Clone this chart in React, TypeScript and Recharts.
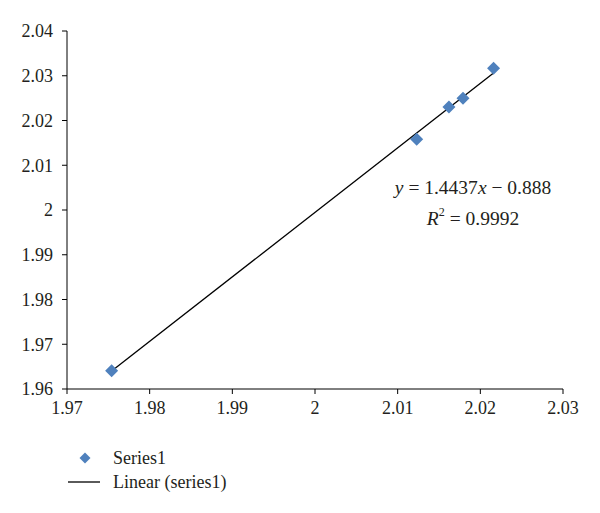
import React from 'react';
import { ScatterChart, Scatter, XAxis, YAxis } from 'recharts';

const seriesX = [1.9754, 2.0123, 2.0162, 2.0179, 2.0216];
const seriesY = [1.9641, 2.0158, 2.023, 2.025, 2.0317];
const trendX = [1.9754, 2.0216];
const trendY = [1.964, 2.0306];
const xTicks = [1.97, 1.98, 1.99, 2, 2.01, 2.02, 2.03];
const yTicks = [1.96, 1.97, 1.98, 1.99, 2, 2.01, 2.02, 2.03, 2.04];

const points = seriesX.map((x, i) => ({ x, y: seriesY[i] }));
const trend = trendX.map((x, i) => ({ x, y: trendY[i] }));

const FONT = '"Liberation Serif", "DejaVu Serif", serif';
const BLUE = '#4F81BD';
const TEXT = '#231f20';

const Diamond = (props: any) => {
  const { cx, cy } = props;
  const r = 6.5;
  return (
    <polygon
      points={`${cx},${cy - r} ${cx + r},${cy} ${cx},${cy + r} ${cx - r},${cy}`}
      fill={BLUE}
    />
  );
};

const NoShape = () => <g />;

export default function App() {
  return (
    <div style={{ position: 'absolute', left: 0, top: 0, width: 600, height: 513, background: '#fff', fontFamily: FONT }}>
      <ScatterChart width={600} height={513} margin={{ top: 31, right: 37, bottom: 94, left: 0 }}>
        <XAxis
          type="number"
          dataKey="x"
          domain={[1.97, 2.03]}
          ticks={xTicks}
          tickFormatter={(v: number) => String(v)}
          allowDataOverflow
          stroke="#000"
          tickLine={{ stroke: '#000' }}
          tickSize={5}
          tickMargin={7}
          tick={{ fill: TEXT, fontSize: 18, fontFamily: FONT }}
          height={30}
          interval={0}
        />
        <YAxis
          type="number"
          dataKey="y"
          domain={[1.96, 2.04]}
          ticks={yTicks}
          tickFormatter={(v: number) => String(v)}
          allowDataOverflow
          stroke="#000"
          tickLine={{ stroke: '#000' }}
          tickSize={5}
          tickMargin={9}
          tick={{ fill: TEXT, fontSize: 18, fontFamily: FONT }}
          width={67}
          interval={0}
        />
        <Scatter
          data={trend}
          line={{ stroke: '#000', strokeWidth: 1.3 }}
          shape={NoShape}
          isAnimationActive={false}
        />
        <Scatter data={points} shape={Diamond} isAnimationActive={false} />
      </ScatterChart>
      <div style={{ position: 'absolute', left: 373, top: 172, width: 200, textAlign: 'center', fontSize: 19.5, color: TEXT, lineHeight: '31px', whiteSpace: 'nowrap' }}>
        <div><i>y</i> = 1.4437<i>x</i> − 0.888</div>
        <div><i>R</i><sup style={{ fontSize: 12, verticalAlign: 'top', lineHeight: '18px' }}>2</sup> = 0.9992</div>
      </div>
      <div style={{ position: 'absolute', left: 60, top: 446, fontSize: 18, color: TEXT, lineHeight: '24px' }}>
        <div style={{ display: 'flex', alignItems: 'center' }}>
          <svg width={50} height={14}><polygon points="25,1.5 30.5,7 25,12.5 19.5,7" fill={BLUE} /></svg>
          <span style={{ marginLeft: 3 }}>Series1</span>
        </div>
        <div style={{ display: 'flex', alignItems: 'center' }}>
          <svg width={50} height={14}><line x1={8} y1={7} x2={40} y2={7} stroke="#000" strokeWidth={1.3} /></svg>
          <span style={{ marginLeft: 3 }}>Linear (series1)</span>
        </div>
      </div>
    </div>
  );
}
